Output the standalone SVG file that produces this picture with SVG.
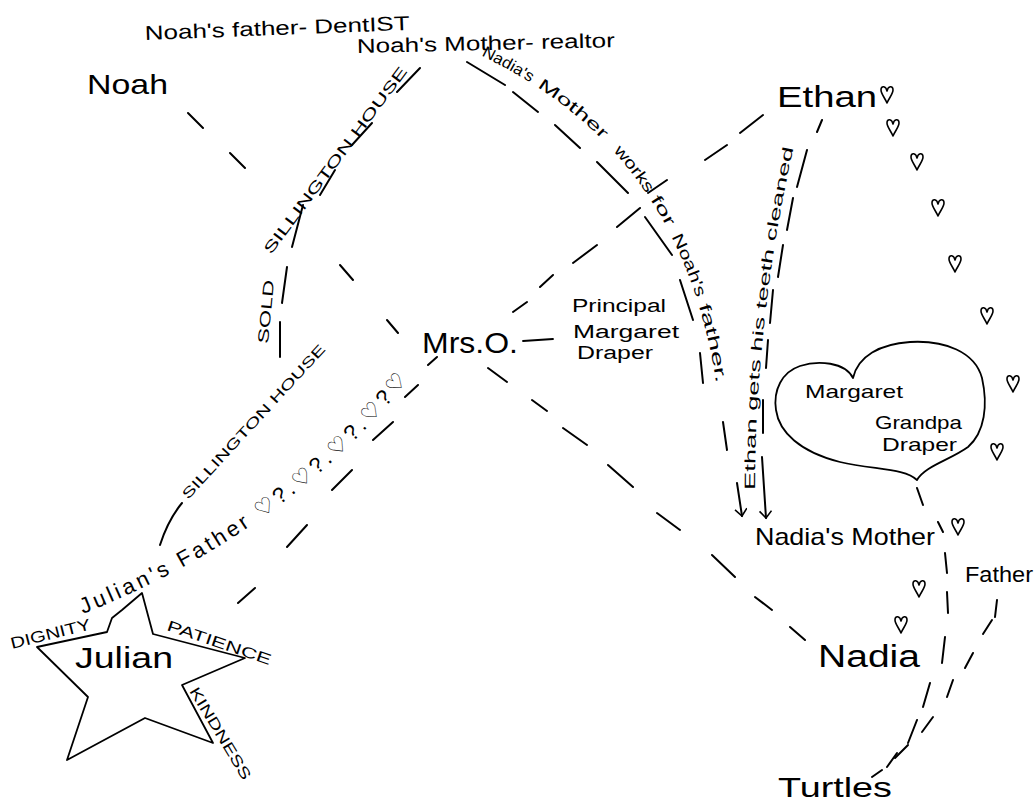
<svg xmlns="http://www.w3.org/2000/svg" width="1035" height="801" viewBox="0 0 1035 801">
<style>
.t{font-family:"Liberation Sans","DejaVu Sans",sans-serif;fill:#000}
.d{stroke:#000;stroke-width:2;fill:none;stroke-linecap:round}
.ln{stroke:#000;stroke-width:1.8;fill:none;stroke-linejoin:round;stroke-linecap:round}
.h{stroke:#000;stroke-width:1.6;fill:none;stroke-linejoin:round}
</style>
<defs>
<path id="hrt" d="M0,-3 C-1,-8 -6,-9 -6,-4 C-6,0 -2,4 0,9 C2,4 6,0 6,-4 C6,-9 1,-8 0,-3 Z"/>
<marker id="arr" markerWidth="16" markerHeight="16" refX="8" refY="6" orient="auto" markerUnits="userSpaceOnUse"><path d="M1,0 L8,6 L1,12" fill="none" stroke="#000" stroke-width="1.6"/></marker>
<path id="pJF" d="M83,614 Q296,528 414,372"/>
<path id="pWorks" d="M474,52 C566,96 686,176 717,388"/>
<path id="pTeeth" d="M755,490 C755,380 768,262 793,150"/>
</defs>
<rect width="1035" height="801" fill="#fff"/>

<g id="connectors">
<!-- Noah to Mrs.O -->
<path class="d" d="M188,113 L203,128 M230,153 L245,168 M340,265 L353,280 M387,320 L398,333"/>
<!-- Mrs.O to Nadia -->
<path class="d" d="M488,368 L507,382 M532,400 L547,411 M563,428 L587,445 M608,465 L633,487 M657,513 L680,530 M712,555 L735,577 M755,597 L772,610 M790,627 L805,640"/>
<!-- Ethan to Julian -->
<path class="d" d="M763,115 L740,133 M727,145 L705,160 M667,180 L648,193 M640,208 L617,227 M597,245 L573,263 M553,275 L540,287 M527,302 L513,312 M437,357 L428,365 M418,385 L405,397 M393,422 L373,440 M352,470 L332,490 M307,525 L287,547 M255,588 L238,603"/>
<!-- Mrs.O to Principal -->
<path class="ln" d="M523,341 L553,339"/>
<!-- Noah's Mother to Julian's Father (Sillington House) -->
<path class="d" d="M420,68 L397,92 M372,123 L352,145 M335,170 L320,195 M303,205 L292,247 M287,267 L282,303 M280,322 L280,357 M182,503 Q168,520 160,545"/>
<!-- works for Noah's father -> Nadia's Mother -->
<path class="d" d="M467,62 L505,85 M513,92 L538,112 M555,125 L580,148 M597,162 L628,193 M645,217 L672,255 M680,280 L693,320 M700,353 L703,383 M723,422 L727,450"/>
<path class="d" d="M737,483 L742,516" marker-end="url(#arr)"/>
<!-- Ethan gets his teeth cleaned -> Nadia's Mother -->
<path class="d" d="M822,120 L817,132 M807,150 L797,187 M793,198 L787,230 M783,245 L778,277 M773,290 L770,323 M768,340 L766,368 M763,400 L763,433"/>
<path class="d" d="M762,457 L766,518" marker-end="url(#arr)"/>
<!-- Grandpa heart to Turtles -->
<path class="d" d="M917,488 L923,505 M938,522 L943,532 M945,553 L947,573 M947,592 L948,613 M945,637 L942,663 M930,683 L923,707 M917,720 L908,743 M897,753 L887,767 M882,770 L872,777"/>
<!-- Father to Turtles -->
<path class="d" d="M997,600 L995,617 M992,620 L983,634 M973,653 L965,668 M953,680 L947,697 M933,717 L922,732 M908,745 L895,758"/>
<!-- connector labels -->
<text class="t" x="271" y="255" font-size="15" textLength="229" lengthAdjust="spacingAndGlyphs" transform="rotate(-53.3 271 255)">SILLINGTON HOUSE</text>
<text class="t" x="268" y="344" font-size="15" textLength="64" lengthAdjust="spacingAndGlyphs" transform="rotate(-84.6 268 344)">SOLD</text>
<text class="t" x="188" y="500" font-size="14" textLength="204" lengthAdjust="spacingAndGlyphs" transform="rotate(-47.4 188 500)">SILLINGTON HOUSE</text>
<text class="t" font-size="16"><textPath href="#pWorks" startOffset="8" textLength="56" lengthAdjust="spacingAndGlyphs">Nadia's</textPath></text>
<text class="t" font-size="16"><textPath href="#pWorks" startOffset="72" textLength="84" lengthAdjust="spacingAndGlyphs">Mother</textPath></text>
<text class="t" font-size="16"><textPath href="#pWorks" startOffset="172" textLength="54" lengthAdjust="spacingAndGlyphs">works</textPath></text>
<text class="t" font-size="16"><textPath href="#pWorks" startOffset="233" textLength="32" lengthAdjust="spacingAndGlyphs">for</textPath></text>
<text class="t" font-size="16"><textPath href="#pWorks" startOffset="276" textLength="66" lengthAdjust="spacingAndGlyphs">Noah's</textPath></text>
<text class="t" font-size="16"><textPath href="#pWorks" startOffset="350" textLength="80" lengthAdjust="spacingAndGlyphs">father.</textPath></text>
<text class="t" font-size="15"><textPath href="#pTeeth" textLength="345" lengthAdjust="spacingAndGlyphs">Ethan gets his teeth cleaned</textPath></text>
</g>

<g id="noahs-father"><text class="t" x="145" y="40" font-size="20" textLength="265" lengthAdjust="spacingAndGlyphs" transform="rotate(-2.2 145 40)">Noah's father- DentIST</text></g>
<g id="noahs-mother"><text class="t" x="357" y="53" font-size="20" textLength="258" lengthAdjust="spacingAndGlyphs" transform="rotate(-1.3 357 53)">Noah's Mother- realtor</text></g>
<g id="noah"><text class="t" x="87" y="94" font-size="28" textLength="81" lengthAdjust="spacingAndGlyphs">Noah</text></g>
<g id="ethan"><text class="t" x="777" y="107" font-size="30" textLength="100" lengthAdjust="spacingAndGlyphs">Ethan</text><use href="#hrt" class="h" x="887" y="94"/></g>
<g id="mrs-o"><text class="t" x="422" y="353" font-size="30" textLength="96" lengthAdjust="spacingAndGlyphs">Mrs.O.</text></g>
<g id="principal">
<text class="t" x="572" y="312" font-size="18" textLength="94" lengthAdjust="spacingAndGlyphs">Principal</text>
<text class="t" x="573" y="338" font-size="18" textLength="106" lengthAdjust="spacingAndGlyphs">Margaret</text>
<text class="t" x="577" y="359" font-size="18" textLength="76" lengthAdjust="spacingAndGlyphs">Draper</text>
</g>
<g id="grandparents">
<path class="ln" d="M853,378 C845,362 818,360 800,366 C782,372 773,390 776,410 C779,432 800,452 840,462 C875,470 905,468 917,480 C925,466 950,460 968,447 C985,432 988,405 982,378 C975,352 945,340 910,342 C880,344 858,356 853,378 Z"/>
<text class="t" x="805" y="398" font-size="19" textLength="98" lengthAdjust="spacingAndGlyphs">Margaret</text>
<text class="t" x="875" y="429" font-size="19" textLength="87" lengthAdjust="spacingAndGlyphs">Grandpa</text>
<text class="t" x="882" y="451" font-size="19" textLength="75" lengthAdjust="spacingAndGlyphs">Draper</text>
</g>
<g id="hearts">
<use href="#hrt" class="h" x="893" y="127"/>
<use href="#hrt" class="h" x="917" y="161"/>
<use href="#hrt" class="h" x="938" y="207"/>
<use href="#hrt" class="h" x="955" y="263"/>
<use href="#hrt" class="h" x="987" y="315"/>
<use href="#hrt" class="h" x="1013" y="383"/>
<use href="#hrt" class="h" x="997" y="451"/>
<use href="#hrt" class="h" x="958" y="526"/>
<use href="#hrt" class="h" x="919" y="588"/>
<use href="#hrt" class="h" x="901" y="624"/>
</g>
<g id="nadias-mother"><text class="t" x="755" y="545" font-size="24" textLength="180" lengthAdjust="spacingAndGlyphs">Nadia's Mother</text></g>
<g id="father"><text class="t" x="965" y="582" font-size="22" textLength="68" lengthAdjust="spacingAndGlyphs">Father</text></g>
<g id="nadia"><text class="t" x="818" y="667" font-size="31" textLength="102" lengthAdjust="spacingAndGlyphs">Nadia</text></g>
<g id="turtles"><text class="t" x="778" y="797" font-size="28" textLength="114" lengthAdjust="spacingAndGlyphs">Turtles</text></g>
<g id="julians-father"><text class="t" font-size="22"><textPath href="#pJF" textLength="405">Julian's Father ♡?.♡?.♡?.♡?♡</textPath></text></g>
<g id="julian">
<path class="ln" d="M142,593 L153,634 L245,658 L182,685 L213,743 L145,718 L67,760 L88,697 L37,647 L107,632 L112,618 L122,610 L142,593 Z"/>
<text class="t" x="75" y="668" font-size="30" textLength="98" lengthAdjust="spacingAndGlyphs">Julian</text>
<text class="t" x="12" y="649" font-size="16" textLength="82" lengthAdjust="spacingAndGlyphs" transform="rotate(-14 12 649)">DIGNITY</text>
<text class="t" x="166" y="630" font-size="15" textLength="109" lengthAdjust="spacingAndGlyphs" transform="rotate(18.8 166 630)">PATIENCE</text>
<text class="t" x="189" y="691" font-size="15" textLength="105" lengthAdjust="spacingAndGlyphs" transform="rotate(59 189 691)">KINDNESS</text>
</g>
</svg>
